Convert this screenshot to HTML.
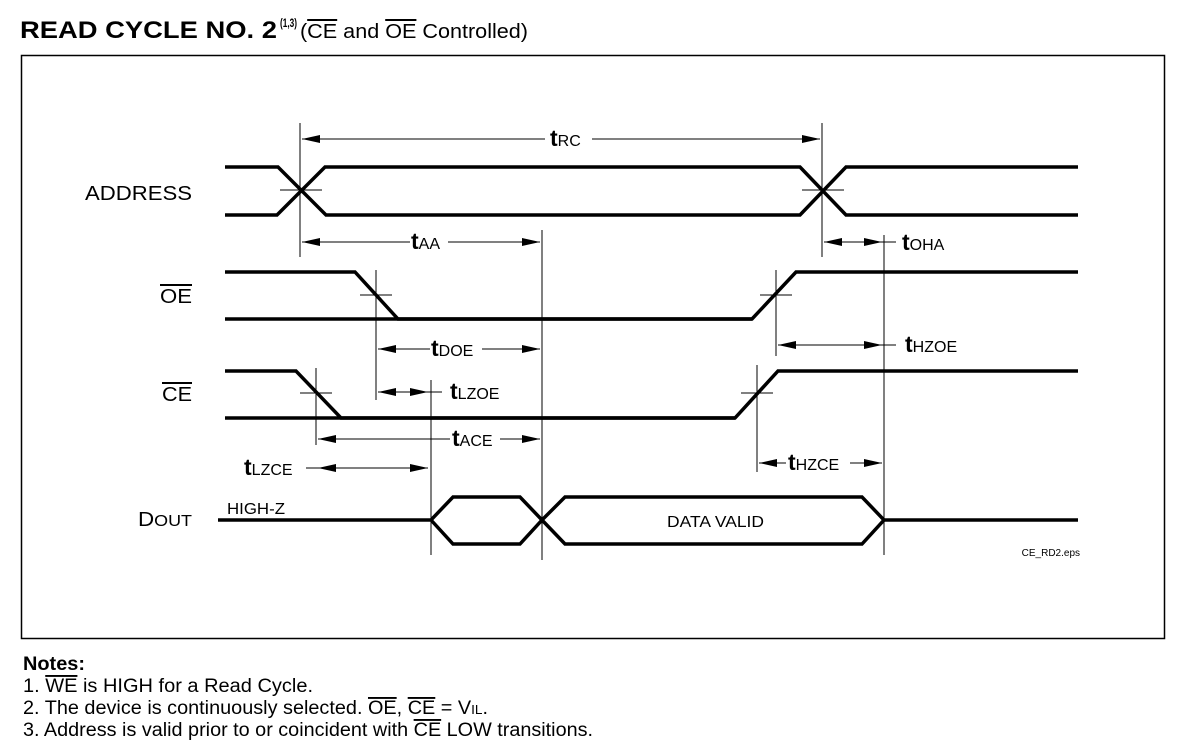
<!DOCTYPE html>
<html><head><style>
body{margin:0;background:#fff;width:1183px;height:750px;overflow:hidden;font-family:"Liberation Sans",Arial,sans-serif}
</style></head><body>
<svg width="1183" height="750" xmlns="http://www.w3.org/2000/svg" font-family="Liberation Sans, Arial, sans-serif">
<defs>
<marker id="a" viewBox="0 0 10 10" refX="10" refY="5" markerWidth="18" markerHeight="8" markerUnits="userSpaceOnUse" orient="auto-start-reverse" preserveAspectRatio="none"><path d="M0,0L10,5L0,10z" fill="#000"/></marker>
</defs>
<text x="20" y="38" font-size="24" font-weight="bold" textLength="257" lengthAdjust="spacingAndGlyphs">READ CYCLE NO. 2</text>
<text x="280" y="27" font-size="12" font-weight="bold" textLength="17" lengthAdjust="spacingAndGlyphs">(1,3)</text>
<text x="300" y="38" font-size="20" textLength="228" lengthAdjust="spacingAndGlyphs">(<tspan text-decoration="overline">CE</tspan> and <tspan text-decoration="overline">OE</tspan> Controlled)</text>
<rect x="21.5" y="55.5" width="1143" height="583" fill="none" stroke="#000" stroke-width="1.5"/>
<g fill="none" stroke="#000" stroke-width="3.5" stroke-linejoin="miter">
<path d="M225,167H278L326,215H800L846,167H1078"/>
<path d="M225,215H277L325,167H800L846,215H1078"/>
<path d="M225,272H355L398,319H752L796,272H1078"/>
<path d="M225,319H752"/>
<path d="M225,371H296L341,418H735L778,371H1078"/>
<path d="M225,418H735"/>
<path d="M218,520H431L453,497H520L542,520L520,544H453L431,520"/>
<path d="M542,520L565,497H862L884,520L862,544H565L542,520"/>
<path d="M884,520H1078"/>
</g>
<g stroke="#000" stroke-width="1" fill="none">
<path d="M300,123V257M822,123V257M542,230V560M884,235V555M376,270V400M776,270V356M316,368V445M757,365V472M431,380V555"/>
<path d="M280,190H322M802,190H844M360,295H392M760,295H792M300,393H332M741,393H773"/>
<path d="M302,139H545" marker-start="url(#a)"/>
<path d="M592,139H820" marker-end="url(#a)"/>
<path d="M302,242H410" marker-start="url(#a)"/>
<path d="M448,242H540" marker-end="url(#a)"/>
<path d="M378,349H430" marker-start="url(#a)"/>
<path d="M482,349H540" marker-end="url(#a)"/>
<path d="M824,242H882" marker-start="url(#a)" marker-end="url(#a)"/>
<path d="M882,242H896"/>
<path d="M778,345H882" marker-start="url(#a)" marker-end="url(#a)"/>
<path d="M882,345H896"/>
<path d="M378,392H428" marker-start="url(#a)" marker-end="url(#a)"/>
<path d="M428,392H442"/>
<path d="M318,439H450" marker-start="url(#a)"/>
<path d="M500,439H540" marker-end="url(#a)"/>
<path d="M306,468H318"/>
<path d="M318,468H428" marker-start="url(#a)" marker-end="url(#a)"/>
<path d="M759,463H786" marker-start="url(#a)"/>
<path d="M850,463H882" marker-end="url(#a)"/>
</g>
<g font-size="16">
<text x="550" y="146"><tspan font-size="23" font-weight="bold">t</tspan>RC</text>
<text x="411" y="249"><tspan font-size="23" font-weight="bold">t</tspan>AA</text>
<text x="431" y="356"><tspan font-size="23" font-weight="bold">t</tspan>DOE</text>
<text x="902" y="250"><tspan font-size="23" font-weight="bold">t</tspan>OHA</text>
<text x="905" y="352"><tspan font-size="23" font-weight="bold">t</tspan>HZOE</text>
<text x="450" y="399"><tspan font-size="23" font-weight="bold">t</tspan>LZOE</text>
<text x="452" y="446"><tspan font-size="23" font-weight="bold">t</tspan>ACE</text>
<text x="244" y="475"><tspan font-size="23" font-weight="bold">t</tspan>LZCE</text>
<text x="788" y="470"><tspan font-size="23" font-weight="bold">t</tspan>HZCE</text>
<text x="227" y="514" textLength="58" lengthAdjust="spacingAndGlyphs">HIGH-Z</text>
<text x="667" y="527" textLength="97" lengthAdjust="spacingAndGlyphs">DATA VALID</text>
</g>
<text x="1080" y="556" font-size="10" text-anchor="end">CE_RD2.eps</text>
<g font-size="20">
<text x="85" y="200" textLength="107" lengthAdjust="spacingAndGlyphs">ADDRESS</text>
<text x="160" y="303" text-decoration="overline" textLength="32" lengthAdjust="spacingAndGlyphs">OE</text>
<text x="162" y="401" text-decoration="overline" textLength="30" lengthAdjust="spacingAndGlyphs">CE</text>
<text x="138" y="526" textLength="54" lengthAdjust="spacingAndGlyphs">D<tspan font-size="16">OUT</tspan></text>
</g>
<g font-size="19">
<text x="23" y="670" font-weight="bold" textLength="62" lengthAdjust="spacingAndGlyphs">Notes:</text>
<text x="23" y="692" textLength="290" lengthAdjust="spacingAndGlyphs">1.  <tspan text-decoration="overline">WE</tspan> is HIGH for a Read Cycle.</text>
<text x="23" y="714" textLength="465" lengthAdjust="spacingAndGlyphs">2.  The device is continuously selected. <tspan text-decoration="overline">OE</tspan>, <tspan text-decoration="overline">CE</tspan> = V<tspan font-size="13">IL</tspan>.</text>
<text x="23" y="736" textLength="570" lengthAdjust="spacingAndGlyphs">3.  Address is valid prior to or coincident with <tspan text-decoration="overline">CE</tspan> LOW transitions.</text>
</g>
</svg>
</body></html>
